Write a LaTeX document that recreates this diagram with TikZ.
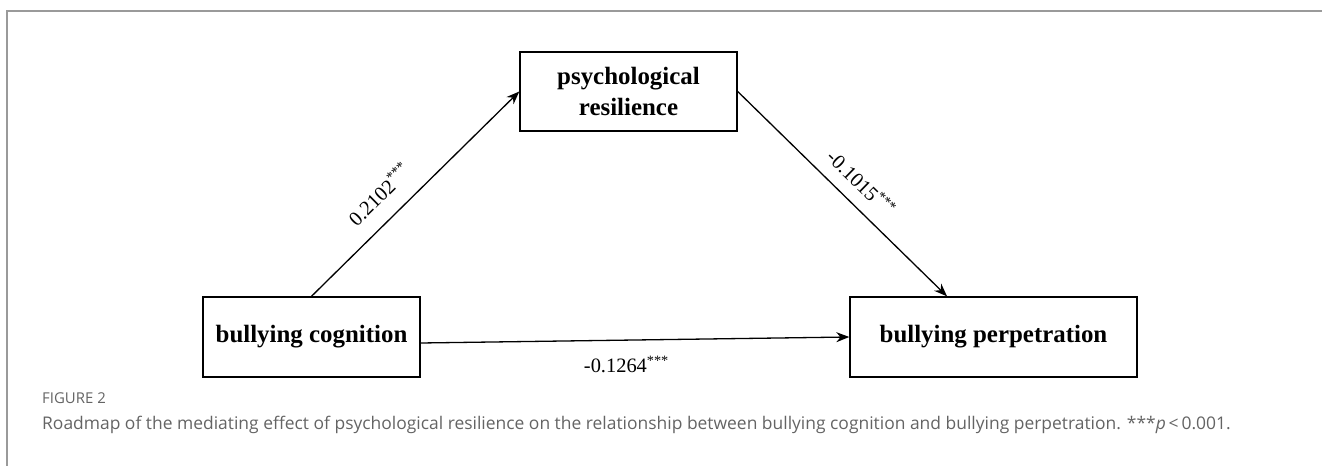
\documentclass[tikz,border=0pt]{standalone}
\usepackage{fontspec}
\setmainfont{Liberation Serif}
\newfontfamily\capfont{Open Sans}
\usepackage{xcolor}
\usetikzlibrary{positioning,arrows.meta}
\definecolor{framegray}{HTML}{9A9A9A}
\definecolor{capgray}{HTML}{646464}

\begin{document}
\begin{tikzpicture}[x=1bp, y=-1bp,
        var/.style={draw, line width=1.4bp, inner sep=0pt, align=center, font=\bfseries\fontsize{25}{31}\selectfont},
        effect/.style={line width=1.3bp, -{Stealth[length=13bp,width=10bp]}},
        coef/.style={font=\fontsize{20.5}{24}\selectfont}]
        \useasboundingbox (0,0) rectangle (1322,466);
        \draw[framegray, line width=1.5bp] (7,466) -- (7,11) -- (1322,11);

        \node[var, minimum width=217bp, minimum height=79bp] (res) at (628.5,91.5) {psychological\\resilience};
        \node[var, minimum width=217bp, minimum height=80bp] (cog) at (311.5,337) {bullying cognition};
        \node[var, minimum width=287bp, minimum height=80bp] (perp) at (993.5,337) {bullying perpetration};

        \draw[effect] (cog.north) -- node[coef, sloped, above=13bp, pos=0.41] (a1) {0.2102\textsuperscript{***}} (res.west);
        \draw[effect] (res.east) -- node[coef, sloped, above=9bp, pos=0.52] (b1) {-0.1015\textsuperscript{***}} ([xshift=-46.5bp]perp.north);
        \draw[effect] ([yshift=-6bp]cog.east) -- node[coef, below=12bp, pos=0.48] (c1) {-0.1264\textsuperscript{***}} (perp.west);

        \node[anchor=base west, inner sep=0pt, text=capgray, font=\capfont\fontsize{15}{17}\selectfont] (fig) at (42,403) {FIGURE 2};
        \node[anchor=base west, inner sep=0pt, text=capgray, font=\capfont\fontsize{17.5}{20}\selectfont] (cap) at (42,429) {Roadmap of the mediating effect of psychological resilience on the relationship between bullying cognition and bullying perpetration. ***\textit{p}\,<\,0.001.};
    \end{tikzpicture}
\end{document}
